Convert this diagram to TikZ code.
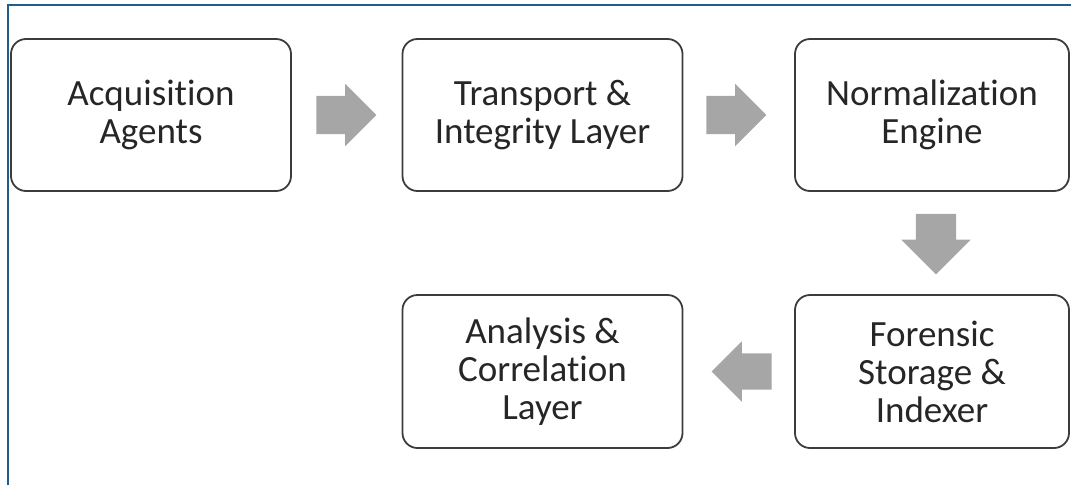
\documentclass[tikz,border=0pt]{standalone}
\usepackage{fontspec}
\setmainfont{Carlito}[Ligatures=NoCommon]
\usetikzlibrary{calc,shapes.arrows}
\definecolor{marco}{HTML}{1F5E8C}
\definecolor{flecha}{HTML}{A6A6A6}
\definecolor{borde}{HTML}{3C3C3C}
\tikzset{
  caja/.style={draw=borde,line width=1.8pt,rounded corners=15pt,fill=white,
    minimum width=280pt,minimum height=152pt,align=center,text=black!85,
    font=\fontsize{37}{38}\selectfont},
  bloque/.style={single arrow,fill=flecha,draw=none,inner sep=19pt,
    minimum height=60pt,single arrow head extend=12pt}
}
\begin{document}
\begin{tikzpicture}[x=1pt,y=-1pt]
                \useasboundingbox (0,0) rectangle (1071,485);
                \draw[marco,line width=2pt] (8,485) -- (8,5) -- (1071,5); % marco
                % cajas
                \node[caja] (acq) at (151,115) {Acquisition\\Agents};
                \node[caja] (trans) at (542.5,115) {Transport \&\\Integrity Layer};
                \node[caja,minimum width=274pt] (norm) at (932,115) {Normalization\\Engine};
                \node[caja,minimum width=274pt,minimum height=153pt] (fore) at (932,371.5) {Forensic\\Storage \&\\Indexer};
                \node[caja,minimum height=153pt] (anal) at (542.5,371.5) {Analysis \&\\Correlation\\Layer};
                % flechas
                \node[bloque] (f1) at ($(acq.east)!0.5!(trans.west)+(-10,0)$) {};
                \node[bloque] (f2) at ($(trans.east)!0.5!(norm.west)+(-12,0)$) {};
                \node[bloque,shape border rotate=270,inner sep=20pt,minimum height=55pt,single arrow head extend=14.5pt] (f3) at ($(norm.south)!0.5!(fore.north)+(4,-9)$) {};
                \node[bloque,shape border rotate=180,inner sep=18pt] (f4) at ($(anal.east)!0.5!(fore.west)+(12,0)$) {};
                \end{tikzpicture}
\end{document}
